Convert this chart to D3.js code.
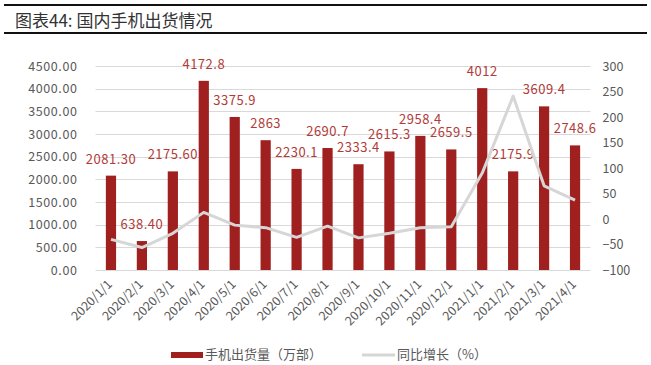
<!DOCTYPE html>
<html>
<head>
<meta charset="utf-8">
<script src="https://cdn.jsdelivr.net/npm/d3@7"></script>
<style>
  html, body { margin: 0; padding: 0; background: #fff; }
  svg { display: block; }
</style>
</head>
<body>
<svg id="chart" width="651" height="365"></svg>
<script>
const categories = ["2020/1/1","2020/2/1","2020/3/1","2020/4/1","2020/5/1","2020/6/1","2020/7/1","2020/8/1","2020/9/1","2020/10/1","2020/11/1","2020/12/1","2021/1/1","2021/2/1","2021/3/1","2021/4/1"];
const shipments = [2081.3, 638.4, 2175.6, 4172.8, 3375.9, 2863, 2230.1, 2690.7, 2333.4, 2615.3, 2958.4, 2659.5, 4012, 2175.9, 3609.4, 2748.6];
const shipmentLabels = ["2081.30","638.40","2175.60","4172.8","3375.9","2863","2230.1","2690.7","2333.4","2615.3","2958.4","2659.5","4012","2175.9","3609.4","2748.6"];
const yoy = [-40, -56, -28, 13, -12, -17, -36, -14, -37, -28, -17, -15, 90, 241, 65, 37];
const leftTicks = [0, 500, 1000, 1500, 2000, 2500, 3000, 3500, 4000, 4500];
const rightTicks = [-100, -50, 0, 50, 100, 150, 200, 250, 300];
const titleText = "图表44: 国内手机出货情况";
const seriesNames = ["手机出货量（万部）", "同比增长（%）"];

const svg = d3.select("#chart");
const font = "'Noto Sans CJK SC', 'Liberation Sans', sans-serif";
const barColor = "#a01f1f";
const labelColor = "#b23b37";
const lineColor = "#d6d6d6";
const gridColor = "#d9d9d9";
const tickColor = "#595959";

const plot = { left: 95.5, right: 590.5, top: 66, bottom: 270 };

// Title with rules
svg.append("rect").attr("x", 4).attr("y", 4).attr("width", 643).attr("height", 2).attr("fill", "#111");
svg.append("rect").attr("x", 4).attr("y", 32).attr("width", 643).attr("height", 2).attr("fill", "#111");
svg.append("text").attr("x", 15).attr("y", 22).attr("dominant-baseline", "middle")
  .attr("font-family", font).attr("font-size", 17).attr("fill", "#333").text(titleText);

const x = d3.scaleBand().domain(categories).range([plot.left, plot.right]).paddingInner(0.67).paddingOuter(0.335);
const yL = d3.scaleLinear().domain([0, 4500]).range([plot.bottom, plot.top]);
const yR = d3.scaleLinear().domain([-100, 300]).range([plot.bottom, plot.top]);

// gridlines
svg.append("g").selectAll("line").data(leftTicks).join("line")
  .attr("x1", plot.left).attr("x2", plot.right)
  .attr("y1", d => Math.round(yL(d)) + 0.5).attr("y2", d => Math.round(yL(d)) + 0.5)
  .attr("stroke", gridColor).attr("stroke-width", 1);

// left axis
const gL = svg.append("g").attr("transform", `translate(${plot.left - 18},0)`)
  .call(d3.axisLeft(yL).tickValues(leftTicks).tickFormat(d3.format(".2f")).tickSize(0).tickPadding(0));
gL.select(".domain").remove();
gL.selectAll("text").attr("font-family", font).attr("font-size", 12.5).attr("letter-spacing", 0.6).attr("fill", tickColor);

// right axis
const gR = svg.append("g").attr("transform", `translate(${plot.right + 12},0)`)
  .call(d3.axisRight(yR).tickValues(rightTicks).tickFormat(d3.format("d")).tickSize(0).tickPadding(0));
gR.select(".domain").remove();
gR.selectAll("text").attr("font-family", font).attr("font-size", 12.5).attr("fill", tickColor)
  .text(d => d < 0 ? "−" + Math.abs(d) : d);

// bars
svg.append("g").selectAll("rect").data(shipments).join("rect")
  .attr("x", (d, i) => x(categories[i]))
  .attr("width", x.bandwidth())
  .attr("y", d => yL(d))
  .attr("height", d => yL(0) - yL(d))
  .attr("fill", barColor);

// bar labels
svg.append("g").selectAll("text").data(shipments).join("text")
  .attr("x", (d, i) => x(categories[i]) + x.bandwidth() / 2)
  .attr("y", d => yL(d) - 12)
  .attr("text-anchor", "middle")
  .attr("font-family", font).attr("font-size", 13).attr("letter-spacing", 0.5)
  .attr("fill", labelColor)
  .text((d, i) => shipmentLabels[i]);

// line
const line = d3.line().x((d, i) => x(categories[i]) + x.bandwidth() / 2).y(d => yR(d));
svg.append("path").datum(yoy).attr("d", line)
  .attr("fill", "none").attr("stroke", lineColor).attr("stroke-width", 3)
  .attr("stroke-linejoin", "round");

// x axis labels
svg.append("g").selectAll("text").data(categories).join("text")
  .attr("transform", d => `translate(${x(d) + x.bandwidth() / 2 + 2},${plot.bottom + 15}) rotate(-45)`)
  .attr("text-anchor", "end")
  .attr("font-family", font).attr("font-size", 12.5).attr("fill", tickColor)
  .text(d => d);

// legend
const lg = svg.append("g");
lg.append("rect").attr("x", 171).attr("y", 352).attr("width", 32).attr("height", 6).attr("fill", barColor);
lg.append("text").attr("x", 205).attr("y", 355).attr("dominant-baseline", "middle")
  .attr("font-family", font).attr("font-size", 13).attr("fill", tickColor).text(seriesNames[0]);
lg.append("line").attr("x1", 362).attr("x2", 395).attr("y1", 355).attr("y2", 355)
  .attr("stroke", lineColor).attr("stroke-width", 3);
lg.append("text").attr("x", 397).attr("y", 355).attr("dominant-baseline", "middle")
  .attr("font-family", font).attr("font-size", 13).attr("fill", tickColor).text(seriesNames[1]);
</script>
</body>
</html>
